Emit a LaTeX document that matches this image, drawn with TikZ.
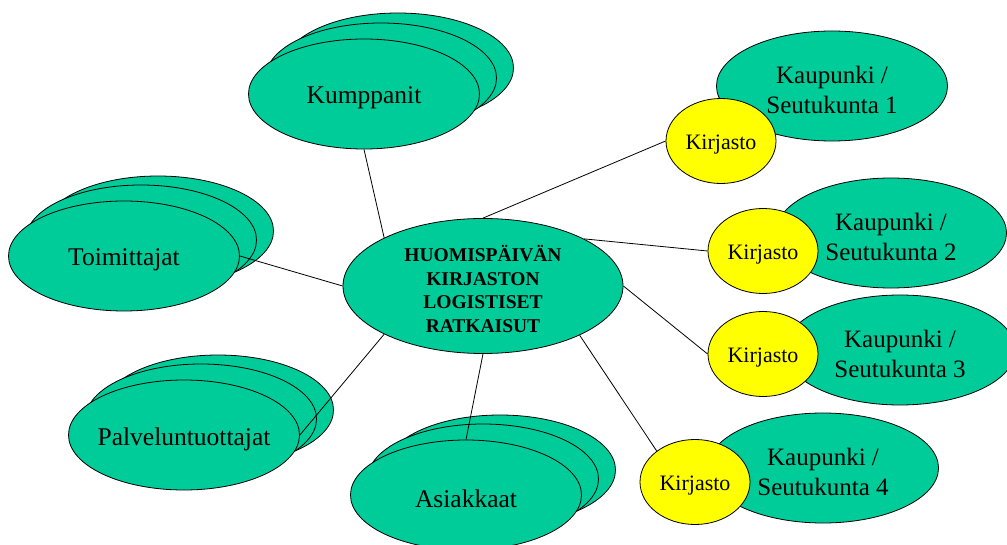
\documentclass[tikz,border=0pt]{standalone}
\usepackage{fontspec}
\setmainfont{Liberation Serif}
\usetikzlibrary{shapes.geometric}
\definecolor{vihrea}{RGB}{0,204,153}
\definecolor{keltainen}{RGB}{255,255,0}
\tikzset{
  soikio/.style={ellipse, draw=black, line width=0.8pt, fill=vihrea, inner sep=0pt,
    minimum width=231pt, minimum height=110pt},
  nimi/.style={soikio, label={[font=\fontsize{25.5}{30}\selectfont, yshift=-4pt]center:{#1}}},
  keski/.style={soikio, minimum width=280pt, minimum height=135pt,
    label={[align=center, font=\bfseries\fontsize{19.5}{23.5}\selectfont, yshift=-3pt]center:{#1}}},
  kaupunki/.style={soikio,
    label={[align=center, font=\fontsize{25}{30.5}\selectfont, yshift=-4pt]center:{#1}}},
  kirjasto/.style={ellipse, draw=black, line width=0.8pt, fill=keltainen, inner sep=0pt,
    minimum width=110pt, minimum height=85pt,
    label={[font=\fontsize{22}{26}\selectfont, yshift=-4pt]center:Kirjasto}},
  yhteys/.style={line width=0.8pt}
}
\begin{document}
\begin{tikzpicture}[x=1pt, y=-1pt]
    \useasboundingbox (0,0) rectangle (1007,545);
    \clip (0,0) rectangle (1007,545);

    % Kumppanit
    \node[soikio] (kump3) at (398,68) {};
    \node[soikio] (kump2) at (381,78) {};
    \node[nimi=Kumppanit] (kump) at (364,94) {};

    % Toimittajat
    \node[soikio] (toim3) at (158,231) {};
    \node[soikio] (toim2) at (141,240) {};
    \node[nimi=Toimittajat] (toim) at (124,256) {};

    % Palveluntuottajat
    \node[soikio] (palv3) at (218,410) {};
    \node[soikio] (palv2) at (201,419) {};
    \node[nimi=Palveluntuottajat] (palv) at (184,435) {};

    % Asiakkaat
    \node[soikio] (asiak3) at (500,470) {};
    \node[soikio] (asiak2) at (483,479) {};
    \node[nimi=Asiakkaat] (asiak) at (466,495) {};

    % Keskus
    \node[keski={HUOMISPÄIVÄN\\KIRJASTON\\LOGISTISET\\RATKAISUT}] (keski) at (483,286) {};

    % Kaupungit ja kirjastot
    \node[kaupunki={Kaupunki /\\Seutukunta 1}] (kaup1) at (832,86) {};
    \node[kaupunki={Kaupunki /\\Seutukunta 2}] (kaup2) at (891,233) {};
    \node[kaupunki={Kaupunki /\\Seutukunta 3}] (kaup3) at (900,350) {};
    \node[kaupunki={Kaupunki /\\Seutukunta 4}] (kaup4) at (823,468) {};

    \node[kirjasto] (kir1) at (721,141) {};
    \node[kirjasto] (kir2) at (763,251) {};
    \node[kirjasto] (kir3) at (763,354) {};
    \node[kirjasto] (kir4) at (695,482) {};

    % Yhteydet
    \draw[yhteys] (kump.south) -- (keski.154);
    \draw[yhteys] (toim.east) -- (keski.west);
    \draw[yhteys] (palv.east) -- (keski.206);
    \draw[yhteys] (asiak.north) -- (keski.south);
    \draw[yhteys] (keski.north) -- (kir1.west);
    \draw[yhteys] (keski.25) -- (kir2.west);
    \draw[yhteys] (keski.east) -- (kir3.west);
    \draw[yhteys] (keski.-27) -- (kir4.141);
\end{tikzpicture}
\end{document}
